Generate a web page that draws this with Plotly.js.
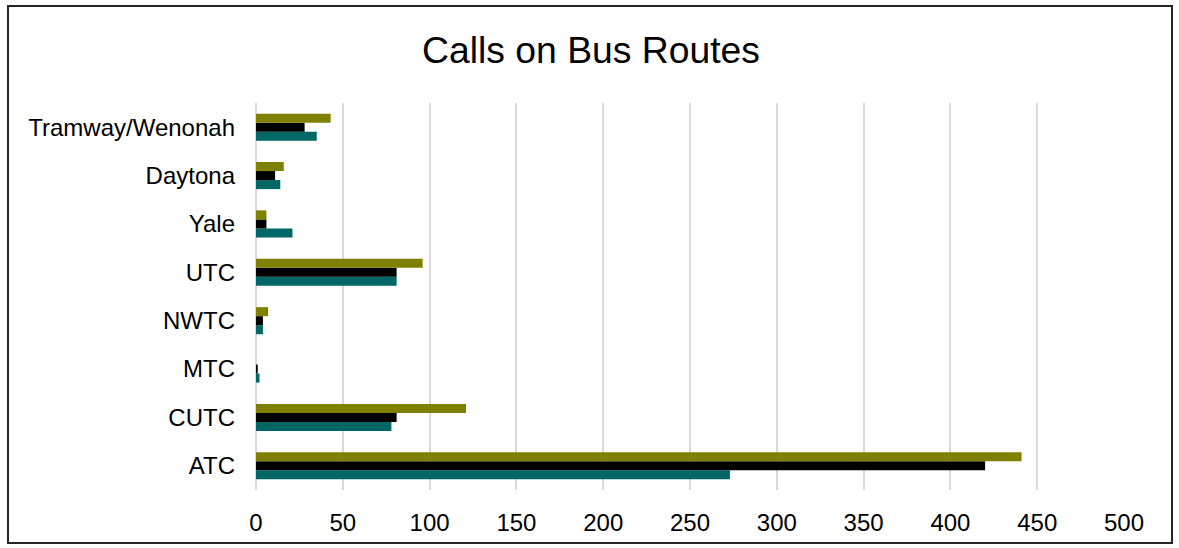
<!DOCTYPE html>
<html>
<head>
<meta charset="utf-8">
<script src="https://cdn.plot.ly/plotly-3.0.1.min.js"></script>
<style>
  html, body { margin: 0; padding: 0; background: #fff; }
  #chart { width: 1179px; height: 548px; }
</style>
</head>
<body>
<div id="chart"></div>
<script>
const routes = ["ATC", "CUTC", "MTC", "NWTC", "UTC", "Yale", "Daytona", "Tramway/Wenonah"];
const seriesTealName = "Series 1";
const seriesBlackName = "Series 2";
const seriesOliveName = "Series 3";
const seriesTeal  = [273, 78, 2, 4, 81, 21, 14, 35];
const seriesBlack = [420, 81, 1, 4, 81, 6, 11, 28];
const seriesOlive = [441, 121, 0, 7, 96, 6, 16, 43];
const xTicks = [0, 50, 100, 150, 200, 250, 300, 350, 400, 450, 500];

const W = 1179, H = 548;
const mL = 256, mR = 55, mT = 103, mB = 58;
const pw = W - mL - mR, ph = H - mT - mB;
function px(x) { return (x - mL) / pw; }
function py(y) { return (H - mB - y) / ph; }

function bar(name, vals, color) {
  return {
    type: "bar", orientation: "h", name: name,
    y: routes, x: vals,
    marker: { color: color, line: { width: 0 } },
    hoverinfo: "x+y+name"
  };
}

const data = [
  bar(seriesTealName, seriesTeal, "#006666"),
  bar(seriesBlackName, seriesBlack, "#000000"),
  bar(seriesOliveName, seriesOlive, "#808000")
];

const layout = {
  width: W, height: H,
  margin: { l: mL, r: mR, t: mT, b: mB, pad: 0 },
  paper_bgcolor: "#ffffff", plot_bgcolor: "#ffffff",
  font: { family: "Liberation Sans, Arial, sans-serif", color: "#000000", size: 24 },
  title: { text: "Calls on Bus Routes", x: 591 / W, xref: "container", xanchor: "center",
           y: 1 - 50 / H, yanchor: "middle", yref: "container",
           font: { size: 37.3, color: "#000000", family: "Liberation Sans, Arial, sans-serif" } },
  showlegend: false,
  barmode: "group", bargap: 0.44, bargroupgap: 0,
  xaxis: {
    range: [0, 500], tickvals: xTicks, ticktext: xTicks.map(String),
    showgrid: true, gridcolor: "#d9d9d9", gridwidth: 2,
    zeroline: true, zerolinecolor: "#d9d9d9", zerolinewidth: 2,
    showline: false, ticks: "",
    ticklabelstandoff: 16,
    tickfont: { size: 24, color: "#000000" },
    fixedrange: true
  },
  yaxis: {
    type: "category", categoryorder: "array", categoryarray: routes,
    showgrid: false, zeroline: false, showline: false, ticks: "",
    ticklabelstandoff: 20,
    tickfont: { size: 24, color: "#000000" },
    fixedrange: true
  },
  shapes: [
    { type: "rect", xref: "paper", yref: "paper",
      x0: px(8), x1: px(1172), y0: py(543), y1: py(6),
      line: { color: "#262626", width: 2 }, fillcolor: "rgba(0,0,0,0)", layer: "above" }
  ]
};

Plotly.newPlot("chart", data, layout, { displayModeBar: false, staticPlot: true });
</script>
</body>
</html>
